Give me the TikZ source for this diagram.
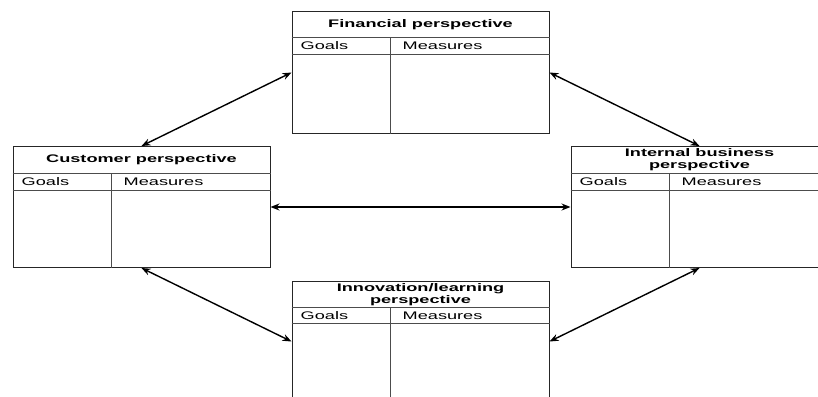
\documentclass[tikz,border=0pt]{standalone}
\usepackage{fontspec}
\setmainfont{Liberation Sans}
\usetikzlibrary{arrows.meta,calc}
% widened lettering used throughout the cards
\newcommand\wide[1]{\scalebox{1.65}[1]{#1}}
% rules inside a card: #1 node, #2 title row height, #3 header row height
\newcommand\cardrules[3]{%
  \draw[rule] ($(#1.north west)+(0,#2)$) -- ($(#1.north east)+(0,#2)$);
  \draw[rule] ($(#1.north west)+(0,#2+#3)$) -- ($(#1.north east)+(0,#2+#3)$);
  \draw[rule] ($(#1.north west)+(99,#2)$) -- ($(#1.south west)+(99,0)$);
  \node[label] at ($(#1.north west)+(9,#2+#3/2)$) {\wide{Goals}};
  \node[label] at ($(#1.north west)+(111,#2+#3/2)$) {\wide{Measures}};
}
\begin{document}
\begin{tikzpicture}[x=1pt,y=-1pt,
  card/.style={draw=black!85,line width=1pt,rectangle,minimum width=257pt,minimum height=121pt,inner sep=0pt},
  rule/.style={draw=black!70,line width=0.9pt},
  title/.style={font=\fontsize{11}{12}\selectfont\bfseries,align=center,inner sep=0pt},
  label/.style={font=\fontsize{11}{12}\selectfont,inner sep=0pt,anchor=west},
  link/.style={line width=1.4pt,{Stealth[length=9pt,width=7pt]}-{Stealth[length=9pt,width=7pt]}}]
\useasboundingbox (0,0) rectangle (818,396);
\clip (0,0) rectangle (818,396);
\fill[white] (0,0) rectangle (818,396);

% the four perspective cards
\node[card] (fin)  at (420.5,72.5) {};
\node[card] (cust) at (141.5,207)  {};
\node[card] (int)  at (699.5,207)  {};
\node[card] (inn)  at (420.5,341.5) {};

\cardrules{fin}{26}{17}
\cardrules{cust}{27}{17}
\cardrules{int}{27}{17}
\cardrules{inn}{27}{16}

\node[title] (finT)  at ($(fin.north)+(0,13)$)    {\wide{Financial perspective}};
\node[title] (custT) at ($(cust.north)+(0,13.5)$) {\wide{Customer perspective}};
\node[title] (intT)  at ($(int.north)+(0,14)$)    {\wide{Internal business}\\\wide{perspective}};
\node[title] (innT)  at ($(inn.north)+(0,14)$)    {\wide{Innovation/learning}\\\wide{perspective}};

% two-way links between the cards
\draw[link] (fin.west) -- (cust.north);
\draw[link] (fin.east) -- (int.north);
\draw[link] (cust.east) -- (int.west);
\draw[link] (cust.south) -- (inn.west);
\draw[link] (inn.east) -- (int.south);
\end{tikzpicture}
\end{document}
